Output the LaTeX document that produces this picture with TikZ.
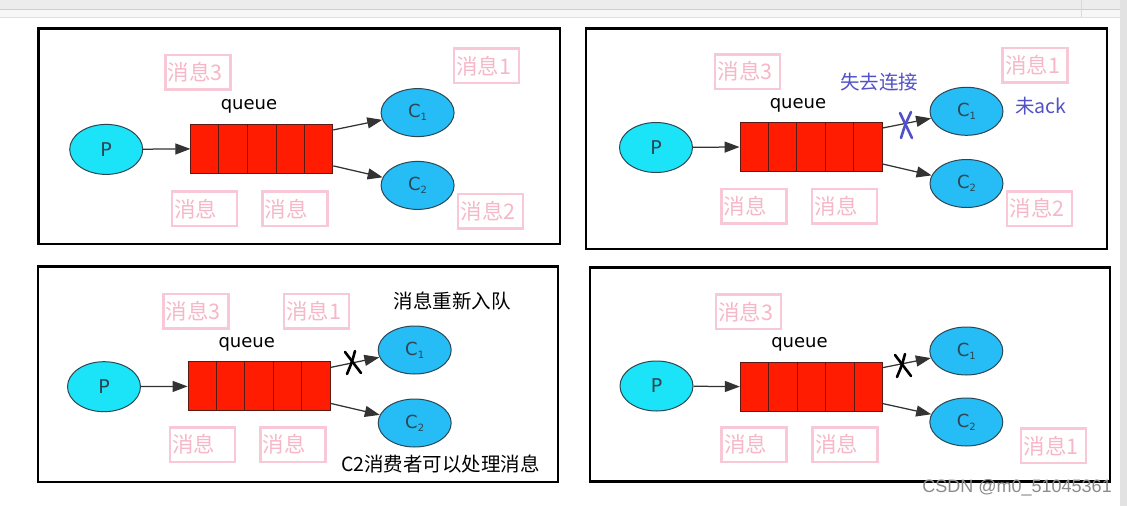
\documentclass[tikz,border=0pt]{standalone}
\usepackage{fontspec}
\setmainfont{Noto Sans CJK SC}
\newfontfamily\dvfont{DejaVu Sans}
\newfontfamily\wmfont{Liberation Sans}
\usetikzlibrary{shapes.geometric,arrows.meta,calc}
\definecolor{pcyan}{RGB}{28,228,248}
\definecolor{cblue}{RGB}{38,188,246}
\definecolor{edgec}{RGB}{45,70,82}
\definecolor{qred}{RGB}{255,28,0}
\definecolor{qedge}{RGB}{90,25,20}
\definecolor{pinkb}{RGB}{249,200,214}
\definecolor{pinkt}{RGB}{246,184,200}
\definecolor{lblue}{RGB}{82,82,200}
\definecolor{barg}{RGB}{236,236,236}
\definecolor{barl}{RGB}{205,205,205}
\definecolor{stripg}{RGB}{226,226,226}
\tikzset{
  prod/.style={ellipse,fill=pcyan,draw=edgec,line width=1pt,minimum width=73pt,minimum height=50pt,inner sep=0pt,text=edgec,font=\dvfont\fontsize{19}{19}\selectfont},
  cons/.style={ellipse,fill=cblue,draw=edgec,line width=1pt,minimum width=73pt,minimum height=48pt,inner sep=0pt,text=edgec,font=\dvfont\fontsize{18}{18}\selectfont},
  qbox/.style={rectangle,fill=qred,draw=qedge,line width=0.9pt,minimum width=142pt,minimum height=49pt,inner sep=0pt},
  qlabel/.style={font=\dvfont\fontsize{18}{18}\selectfont,text=black,inner sep=0pt},
  pinkbox/.style={draw=pinkb,line width=2.5pt,text=pinkt,minimum height=34.5pt,text width=60pt,align=left,inner xsep=2.5pt,inner ysep=0pt,font=\fontsize{21.5}{22}\selectfont},
  panel/.style={draw=black,line width=2.8pt},
  arr/.style={draw=black!80,line width=1.25pt,-{Triangle[length=15pt,width=11pt]}},
  xmark/.style={line width=2.6pt,line cap=round},
  note/.style={font=\fontsize{19.5}{20}\selectfont,inner sep=0pt},
}
\newcommand{\csub}[1]{C\raisebox{-3pt}{\fontsize{10}{10}\selectfont #1}}
\begin{document}
\begin{tikzpicture}[x=1pt,y=-1pt]
\useasboundingbox (0,0) rectangle (1127,506);
\fill[white] (0,0) rectangle (1127,506);
% window chrome
\fill[barg] (0,0) rectangle (1120,8.5);
\draw[barl,line width=0.8pt] (0,9.5) -- (1120,9.5);
\fill[gray!6] (0,10) rectangle (1120,17);
\draw[gray!25,line width=0.6pt] (0,17) -- (1120,17);
\draw[gray!30,line width=0.6pt] (1081,0) -- (1081,17);
\fill[stripg] (1120,0) rectangle (1127,506);

% ================= Panel 1 =================
\draw[panel] (38.6,28.5) rectangle (560,244);
\node[prod] (p1) at (106.2,149.4) {P};
\node[qbox] (q1) at (261.8,148.9) {};
\node[cons] (c11) at (417.6,112.6) {\csub{1}};
\node[cons] (c12) at (417.6,185.4) {\csub{2}};
\node[qlabel] (ql1) at (249,106) {queue};
\foreach \f in {0.2,0.4,0.6,0.8}
  \draw[qedge,line width=0.9pt] ($(q1.north west)!\f!(q1.north east)$) -- ($(q1.south west)!\f!(q1.south east)$);
\coordinate (q1a) at ($(q1.north east)!0.12!(q1.south east)$);
\coordinate (q1b) at ($(q1.north east)!0.84!(q1.south east)$);
\draw[arr] (p1) -- (q1.west);
\draw[arr] (q1a) -- (c11);
\draw[arr] (q1b) -- (c12);
\node[pinkbox] (m13) at (197.8,72.3) {消息3};
\node[pinkbox] (m11) at (486.4,65.9) {消息1};
\node[pinkbox] (m1a) at (204.4,208.9) {消息};
\node[pinkbox] (m1b) at (294.9,208.9) {消息};
\node[pinkbox] (m12) at (490.7,211.3) {消息2};

% ================= Panel 2 =================
\draw[panel] (586,28.5) rectangle (1107,249);
\node[prod] (p2) at (656,147.5) {P};
\node[qbox] (q2) at (811,147) {};
\node[cons] (c21) at (966.5,111.3) {\csub{1}};
\node[cons] (c22) at (966.5,183.5) {\csub{2}};
\node[qlabel] (ql2) at (798,105) {queue};
\foreach \f in {0.2,0.4,0.6,0.8}
  \draw[qedge,line width=0.9pt] ($(q2.north west)!\f!(q2.north east)$) -- ($(q2.south west)!\f!(q2.south east)$);
\coordinate (q2a) at ($(q2.north east)!0.12!(q2.south east)$);
\coordinate (q2b) at ($(q2.north east)!0.84!(q2.south east)$);
\draw[arr] (p2) -- (q2.west);
\draw[arr] (q2a) -- (c21);
\draw[arr] (q2b) -- (c22);
\node[pinkbox] (m23) at (747.6,71.7) {消息3};
\node[pinkbox] (m21) at (1035.2,65.3) {消息1};
\node[pinkbox] (m2a) at (753.9,206.2) {消息};
\node[pinkbox] (m2b) at (844.5,206.2) {消息};
\node[pinkbox] (m22) at (1039.5,208.5) {消息2};
\node[note,text=lblue] (lost) at (879,82.4) {失去连接};
\node[note,text=lblue] (noack) at (1041,106) {未ack};
\coordinate (x2) at (906,125);
\draw[xmark,lblue] ($(x2)+(-6,-12)$) -- ($(x2)+(6,13)$);
\draw[xmark,lblue] ($(x2)+(5,-13)$) .. controls ($(x2)+(-1,0)$) .. ($(x2)+(-5,13)$);

% ================= Panel 3 =================
\draw[panel] (38,266.7) rectangle (558,482);
\node[prod] (p3) at (104,386.7) {P};
\node[qbox] (q3) at (259,386.4) {};
\node[cons] (c31) at (414.7,350) {\csub{1}};
\node[cons] (c32) at (414.7,423) {\csub{2}};
\node[qlabel] (ql3) at (246.7,344) {queue};
\foreach \f in {0.2,0.4,0.6,0.8}
  \draw[qedge,line width=0.9pt] ($(q3.north west)!\f!(q3.north east)$) -- ($(q3.south west)!\f!(q3.south east)$);
\coordinate (q3a) at ($(q3.north east)!0.12!(q3.south east)$);
\coordinate (q3b) at ($(q3.north east)!0.84!(q3.south east)$);
\draw[arr] (p3) -- (q3.west);
\draw[arr] (q3a) -- (c31);
\draw[arr] (q3b) -- (c32);
\node[pinkbox] (m33) at (195.8,311) {消息3};
\node[pinkbox] (m31) at (316.3,311) {消息1};
\node[pinkbox] (m3a) at (202.4,444.5) {消息};
\node[pinkbox] (m3b) at (292.8,444.5) {消息};
\node[note,text=black] (requeue) at (452,301) {消息重新入队};
\node[note,text=black] (c2ok) at (440.6,463.7) {C2消费者可以处理消息};
\coordinate (x3) at (353,362);
\draw[xmark,black] ($(x3)+(-8,-10)$) -- ($(x3)+(8,11)$);
\draw[xmark,black] ($(x3)+(2,-11)$) .. controls ($(x3)+(-1,0)$) .. ($(x3)+(-6,12)$);

% ================= Panel 4 =================
\draw[panel] (590,267.7) rectangle (1110,481.7);
\node[prod] (p4) at (656.5,386) {P};
\node[qbox] (q4) at (811.3,386.6) {};
\node[cons] (c41) at (966.3,351) {\csub{1}};
\node[cons] (c42) at (966.3,422) {\csub{2}};
\node[qlabel] (ql4) at (799.5,344.5) {queue};
\foreach \f in {0.2,0.4,0.6,0.8}
  \draw[qedge,line width=0.9pt] ($(q4.north west)!\f!(q4.north east)$) -- ($(q4.south west)!\f!(q4.south east)$);
\coordinate (q4a) at ($(q4.north east)!0.12!(q4.south east)$);
\coordinate (q4b) at ($(q4.north east)!0.84!(q4.south east)$);
\draw[arr] (p4) -- (q4.west);
\draw[arr] (q4a) -- (c41);
\draw[arr] (q4b) -- (c42);
\node[pinkbox] (m43) at (748.4,311.8) {消息3};
\node[pinkbox] (m4a) at (754,444.5) {消息};
\node[pinkbox] (m4b) at (845,444.5) {消息};
\node[pinkbox] (m41) at (1053.5,445.8) {消息1};
\coordinate (x4) at (903,365);
\draw[xmark,black] ($(x4)+(-8,-10)$) -- ($(x4)+(8,11)$);
\draw[xmark,black] ($(x4)+(2,-11)$) .. controls ($(x4)+(-1,0)$) .. ($(x4)+(-6,12)$);

% watermark
\node[anchor=east,inner sep=0pt,text=black!45,font=\wmfont\fontsize{18}{18}\selectfont] (wm) at (1112,488) {CSDN @m0\_51045361};
\end{tikzpicture}
\end{document}
